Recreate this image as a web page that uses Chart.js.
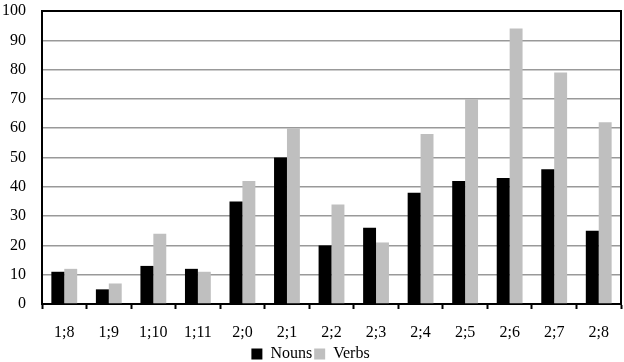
<!DOCTYPE html>
<html>
<head>
<meta charset="utf-8">
<script src="https://cdn.jsdelivr.net/npm/chart.js@4.4.1/dist/chart.umd.min.js"></script>
<style>
  html, body { margin: 0; padding: 0; background: #fff; }
  #wrap { width: 624px; height: 362px; }
</style>
</head>
<body>
<div id="wrap"><canvas id="chart" width="624" height="362"></canvas></div>
<script>
const ages = ["1;8", "1;9", "1;10", "1;11", "2;0", "2;1", "2;2", "2;3", "2;4", "2;5", "2;6", "2;7", "2;8"];
const nouns = [11, 5, 13, 12, 35, 50, 20, 26, 38, 42, 43, 46, 25];
const verbs = [12, 7, 24, 11, 42, 60, 34, 21, 58, 70, 94, 79, 62];

const serif = "'Liberation Serif', 'DejaVu Serif', serif";

// top and right edges of the plot box
const frame = {
  id: "frame",
  afterDraw(chart) {
    const { ctx, chartArea: a } = chart;
    ctx.save();
    ctx.strokeStyle = "#000";
    ctx.lineWidth = 2;
    ctx.beginPath();
    ctx.moveTo(a.left, a.top);
    ctx.lineTo(a.right, a.top);
    ctx.lineTo(a.right, a.bottom);
    ctx.stroke();
    ctx.restore();
  },
};

new Chart(document.getElementById("chart"), {
  type: "bar",
  data: {
    labels: ages,
    datasets: [
      { label: "Nouns", data: nouns, backgroundColor: "#000000" },
      { label: "Verbs", data: verbs, backgroundColor: "#bfbfbf" },
    ],
  },
  options: {
    responsive: false,
    animation: false,
    categoryPercentage: 0.58,
    barPercentage: 1,
    layout: { padding: { top: 0, right: 3, left: 0, bottom: -10 } },
    scales: {
      x: {
        afterFit(scale) { scale.height = 40; },
        grid: { drawOnChartArea: false, drawTicks: true, tickLength: 5, tickColor: "#000", tickWidth: 2, offset: true },
        border: { color: "#000", width: 2 },
        ticks: { color: "#000", padding: 14, font: { family: serif, size: 16 }, maxRotation: 0 },
      },
      y: {
        min: 0,
        max: 100,
        afterFit(scale) {
          scale.width = 42;
          scale.paddingTop = 11;
          scale.paddingBottom = 0;
        },
        grid: { color: "#999", lineWidth: 1.5, drawTicks: false },
        border: { color: "#000", width: 2 },
        ticks: { stepSize: 10, color: "#000", padding: 16, font: { family: serif, size: 16 } },
      },
    },
    plugins: {
      legend: {
        position: "bottom",
        labels: { color: "#000", boxWidth: 11, boxHeight: 11, padding: 2, font: { family: serif, size: 16 } },
      },
      tooltip: { enabled: false },
    },
  },
  plugins: [frame],
});
</script>
</body>
</html>
